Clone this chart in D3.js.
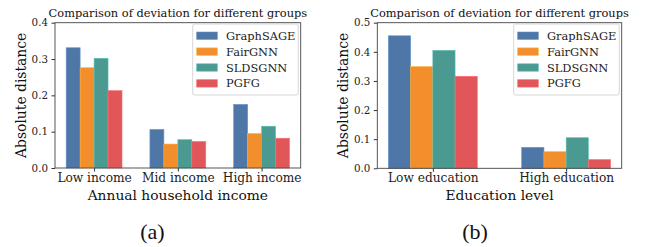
<!DOCTYPE html>
<html>
<head>
<meta charset="utf-8">
<script src="https://cdn.jsdelivr.net/npm/d3@7"></script>
<style>
  body { margin: 0; background: white; }
  svg text { font-family: "DejaVu Serif", serif; }
</style>
</head>
<body>
<script>
/* DATA */
var methods = ['GraphSAGE', 'FairGNN', 'SLDSGNN', 'PGFG'];
var colors = ['#4e76a6', '#f28e2c', '#4a9a92', '#e15759'];

var incomeGroups = ['Low income', 'Mid income', 'High income'];
var incomeGraphSAGE = [0.331, 0.106, 0.175];
var incomeFairGNN = [0.276, 0.066, 0.095];
var incomeSLDSGNN = [0.302, 0.078, 0.115];
var incomePGFG = [0.213, 0.073, 0.082];
var incomeTicks = [0.0, 0.1, 0.2, 0.3, 0.4];

var eduGroups = ['Low education', 'High education'];
var eduGraphSAGE = [0.455, 0.072];
var eduFairGNN = [0.349, 0.057];
var eduSLDSGNN = [0.405, 0.105];
var eduPGFG = [0.316, 0.030];
var eduTicks = [0.0, 0.1, 0.2, 0.3, 0.4, 0.5];

var titleText = 'Comparison of deviation for different groups';

/* SIZES */
var width = 649, height = 247;
var barW = 0.2, groupStep = 1.2;

const svg = d3.select('body').append('svg')
    .attr('width', width)
    .attr('height', height);

svg.append('rect')
    .attr('width', width)
    .attr('height', height)
    .attr('fill', 'white');

function drawPanel(opts) {
    const g = svg.append('g');
    const nG = opts.groups.length;
    // bars span, with a 5% margin each side like matplotlib
    const lo = -2 * barW, hi = (nG - 1) * groupStep + 2 * barW;
    const pad = (hi - lo) * 0.05;
    const x = d3.scaleLinear().domain([lo - pad, hi + pad]).range([opts.left, opts.right]);
    const y = d3.scaleLinear().domain([0, opts.ymax]).range([opts.bottom, opts.top]);

    // bars
    opts.series.forEach((vals, j) => {
        g.append('g').selectAll('rect')
            .data(vals)
            .join('rect')
            .attr('x', (d, i) => x(i * groupStep + (j - 2) * barW))
            .attr('width', x(barW) - x(0))
            .attr('y', d => y(d))
            .attr('height', d => y(0) - y(d))
            .attr('fill', colors[j])
            .attr('stroke', d3.color(colors[j]).brighter(0.6))
            .attr('stroke-width', 0.6);
    });

    // y axis
    const yAxis = g.append('g')
        .attr('transform', `translate(${opts.left},0)`)
        .call(d3.axisLeft(y).tickValues(opts.ticks).tickFormat(d3.format('.1f')).tickSize(3.5).tickPadding(3.5));
    yAxis.select('.domain').remove();
    yAxis.selectAll('line').attr('stroke', '#333');
    yAxis.selectAll('text').style('font-size', '10.3px').attr('fill', '#222');

    // x axis
    const xAxis = g.append('g')
        .attr('transform', `translate(0,${opts.bottom})`)
        .call(d3.axisBottom(x).tickValues(d3.range(nG).map(i => i * groupStep))
            .tickFormat((d, i) => opts.groups[i]).tickSize(3.5).tickPadding(2));
    xAxis.select('.domain').remove();
    xAxis.selectAll('line').attr('stroke', '#333');
    xAxis.selectAll('text').style('font-size', '12.2px').attr('fill', '#222');

    // frame
    g.append('rect')
        .attr('x', opts.left)
        .attr('y', opts.top)
        .attr('width', opts.right - opts.left)
        .attr('height', opts.bottom - opts.top)
        .attr('fill', 'none')
        .attr('stroke', '#444')
        .attr('stroke-width', 0.9);

    // title
    g.append('text')
        .attr('x', (opts.left + opts.right) / 2)
        .attr('y', opts.top - 6)
        .attr('text-anchor', 'middle')
        .style('font-size', '11.4px')
        .attr('fill', '#111')
        .text(titleText);

    // y label
    g.append('text')
        .attr('transform', `translate(${opts.left - 29},${(opts.top + opts.bottom) / 2}) rotate(-90)`)
        .attr('text-anchor', 'middle')
        .style('font-size', '13.9px')
        .attr('fill', '#111')
        .text('Absolute distance');

    // x label
    g.append('text')
        .attr('x', (opts.left + opts.right) / 2)
        .attr('y', opts.bottom + 31.5)
        .attr('text-anchor', 'middle')
        .style('font-size', '13.8px')
        .attr('fill', '#111')
        .text(opts.xlabel);

    // legend
    const lg = g.append('g').attr('transform', `translate(${opts.right - 108},${opts.top + 1.3})`);
    lg.append('rect')
        .attr('width', 105.6)
        .attr('height', 71)
        .attr('rx', 2)
        .attr('fill', 'white')
        .attr('stroke', '#ccc')
        .attr('stroke-width', 0.8);
    methods.forEach((m, j) => {
        lg.append('rect')
            .attr('x', 4)
            .attr('y', 8 + j * 15.9)
            .attr('width', 20.6)
            .attr('height', 7.4)
            .attr('fill', colors[j])
            .attr('stroke', d3.color(colors[j]).brighter(0.6))
            .attr('stroke-width', 0.6);
        lg.append('text')
            .attr('x', 33.3)
            .attr('y', 11.7 + j * 15.9)
            .attr('dominant-baseline', 'central')
            .style('font-size', '11.4px')
            .attr('fill', '#222')
            .text(m);
    });

    // panel caption
    svg.append('text')
        .attr('x', opts.capX)
        .attr('y', 238.5)
        .attr('text-anchor', 'middle')
        .style('font-family', '"Liberation Serif", serif')
        .style('font-size', '22px')
        .attr('fill', '#111')
        .text(opts.caption);
}

drawPanel({
    groups: incomeGroups,
    series: [incomeGraphSAGE, incomeFairGNN, incomeSLDSGNN, incomePGFG],
    ticks: incomeTicks, ymax: 0.4,
    left: 55, right: 300.7, top: 22.7, bottom: 168,
    xlabel: 'Annual household income', caption: '(a)', capX: 152.5
});

drawPanel({
    groups: eduGroups,
    series: [eduGraphSAGE, eduFairGNN, eduSLDSGNN, eduPGFG],
    ticks: eduTicks, ymax: 0.5,
    left: 377.3, right: 621.7, top: 22.7, bottom: 168.3,
    xlabel: 'Education level', caption: '(b)', capX: 475
});
</script>
</body>
</html>
